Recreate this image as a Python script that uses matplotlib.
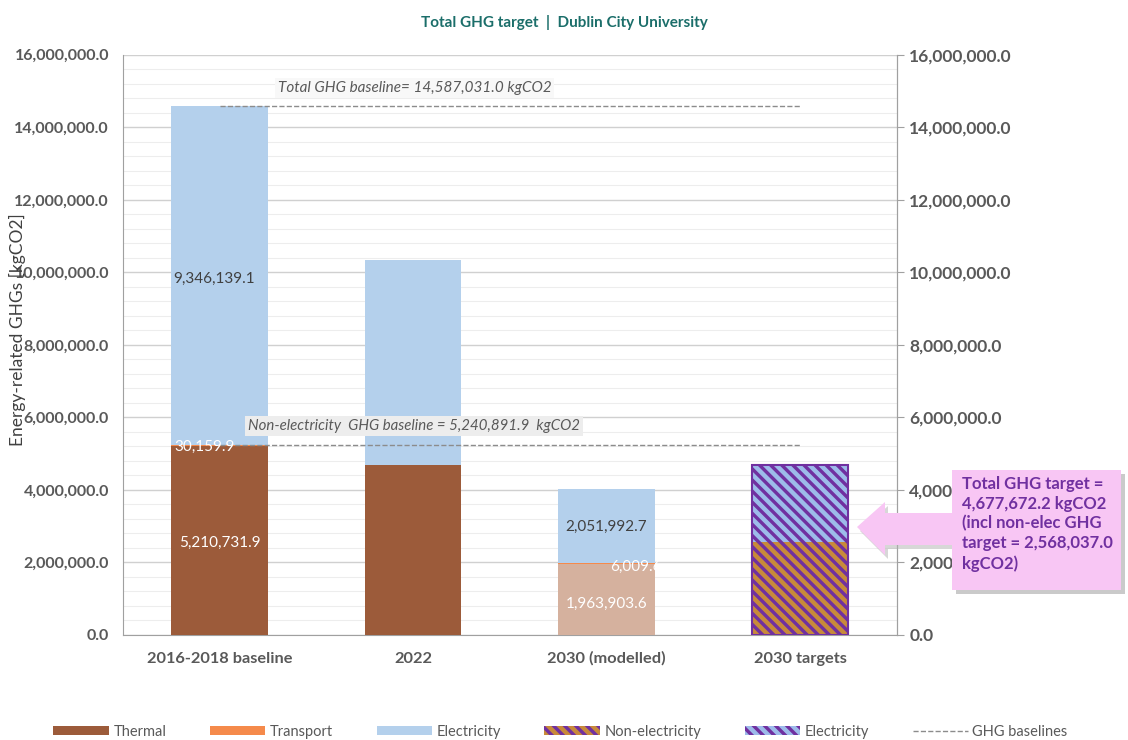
import numpy as np
import matplotlib.pyplot as plt
from matplotlib.patches import Patch, Polygon
from matplotlib.lines import Line2D
from matplotlib.ticker import FuncFormatter, MultipleLocator

plt.rcParams['font.family'] = ['Lato', 'DejaVu Sans']
plt.rcParams['hatch.linewidth'] = 3.2

# data (kgCO2)
categories = ['2016-2018 baseline', '2022', '2030 (modelled)']
thermal = [5210731.9, 4690000.0, 1963903.6]
transport = [30159.9, 0.0, 6009.6]
electricity = [9346139.1, 5640000.0, 2051992.7]

target_label = '2030 targets'
target_nonelec = 2568037.0
target_total = 4677672.2
target_elec = target_total - target_nonelec

total_baseline = 14587031.0
nonelec_baseline = 5240891.9

# colours
c_thermal = '#9C5B3A'
c_thermal_mod = '#D5B19E'
c_transport = '#F58A4B'
c_elec = '#B4D0EC'
c_purple = '#7030A0'
c_stripe_or = '#C88A3A'
c_stripe_bl = '#9DBBEA'
c_text = '#595959'
HATCH = '\\\\\\'

fig = plt.figure(figsize=(11.28, 7.40), dpi=100)
ax = fig.add_axes([0.109, 0.142, 0.686, 0.784])

x = np.arange(len(categories))
w = 0.5
th_cols = [c_thermal, c_thermal, c_thermal_mod]
ax.bar(x, thermal, w, color=th_cols, zorder=3)
ax.bar(x, transport, w, bottom=thermal, color=c_transport, zorder=3)
bot2 = np.array(thermal) + np.array(transport)
ax.bar(x, electricity, w, bottom=bot2, color=c_elec, zorder=3)

# hatched target bar
xt = len(categories)
ax.bar(xt, target_nonelec, w, color=c_purple, edgecolor=c_stripe_or, linewidth=0,
       hatch=HATCH, zorder=3)
ax.bar(xt, target_elec, w, bottom=target_nonelec, color=c_purple, edgecolor=c_stripe_bl,
       linewidth=0, hatch=HATCH, zorder=3)
ax.bar(xt, target_total, w, fill=False, edgecolor=c_purple, linewidth=1.5, zorder=4)

# baselines
ax.plot([0, xt], [total_baseline, total_baseline], ls='--', color='#8C8C8C', lw=1, zorder=4)
ax.plot([0, xt], [nonelec_baseline, nonelec_baseline], ls='--', color='#8C8C8C', lw=1, zorder=4)
ax.text(0.30, 15.09e6, 'Total GHG baseline= 14,587,031.0 kgCO2', style='italic',
        fontsize=11, color=c_text, va='center', zorder=5,
        bbox=dict(facecolor='#F8F8F8', edgecolor='none', pad=2))
ax.text(0.145, 5.77e6, 'Non-electricity  GHG baseline = 5,240,891.9  kgCO2', style='italic',
        fontsize=10.8, color=c_text, va='center', zorder=5,
        bbox=dict(facecolor='#EDEDED', edgecolor='none', pad=2))

# bar labels
lab_kw = dict(ha='center', va='center', fontsize=11, zorder=5)
ax.text(0 - 0.03, 9.82e6, '9,346,139.1', color='#404040', **lab_kw)
ax.text(0 - 0.08, 5.19e6, '30,159.9', color='white', **lab_kw)
ax.text(0, 2.54e6, '5,210,731.9', color='white', **lab_kw)
ax.text(2, 2.98e6, '2,051,992.7', color='#404040', **lab_kw)
ax.text(2 + 0.15, 1.88e6, '6,009.6', color='white', **lab_kw)
ax.text(2, 0.86e6, '1,963,903.6', color='white', **lab_kw)

# axes
ax.set_xlim(-0.5, 3.5)
ax.set_ylim(0, 16e6)
ax.set_xticks(list(x) + [xt])
ax.set_xticklabels(categories + [target_label], fontsize=11.8, fontweight='bold', color=c_text)
ax.tick_params(axis='x', length=0, pad=12)
fmt = FuncFormatter(lambda v, p: f'{v:,.1f}')
ax.yaxis.set_major_locator(MultipleLocator(2e6))
ax.yaxis.set_minor_locator(MultipleLocator(4e5))
ax.yaxis.set_major_formatter(fmt)
ax.tick_params(axis='y', which='both', length=0, labelsize=11.5, labelcolor=c_text, pad=10)
for lab in ax.get_yticklabels():
    lab.set_fontweight('bold')
ax.grid(axis='y', which='major', color='#D0D0D0', lw=1, zorder=0)
ax.grid(axis='y', which='minor', color='#EDEDED', lw=0.8, zorder=0)
ax.spines['top'].set_visible(False)
for s in ['left', 'bottom', 'right']:
    ax.spines[s].set_color('#A0A0A0')
ax.set_ylabel('Energy-related GHGs [kgCO2]', fontsize=12.5, color='#404040')
ax.yaxis.set_label_coords(-0.125, 0.526)

ax2 = ax.twinx()
ax2.set_ylim(0, 16e6)
ax2.yaxis.set_major_locator(MultipleLocator(2e6))
ax2.yaxis.set_major_formatter(fmt)
ax2.tick_params(axis='y', length=5, color='#A0A0A0', labelsize=12.5, labelcolor=c_text, pad=4)
for lab in ax2.get_yticklabels():
    lab.set_fontweight('bold')
for s in ['top', 'left', 'bottom']:
    ax2.spines[s].set_visible(False)
ax2.spines['right'].set_color('#A0A0A0')

fig.text(0.5, 0.970, 'Total GHG target  |  Dublin City University', ha='center', va='center',
         fontsize=11, fontweight='bold', color='#1B6E6A')

# callout arrow + box (figure pixel coords)
W, H = 1128, 740
def px(pts, dx=0, dy=0):
    return [((a + dx) / W, 1 - (b + dy) / H) for a, b in pts]

arrow = [(857, 527), (885, 502), (885, 513), (960, 513), (960, 545), (885, 545), (885, 555)]
pink = '#F8C6F4'
fig.add_artist(Polygon(px(arrow, 3, 4), closed=True, transform=fig.transFigure,
                       facecolor='#B0B0B0', edgecolor='none', alpha=0.5, zorder=9))
fig.add_artist(Polygon(px(arrow), closed=True, transform=fig.transFigure,
                       facecolor=pink, edgecolor='none', zorder=10))
box = [(952, 470), (1121, 470), (1121, 590), (952, 590)]
fig.add_artist(Polygon(px(box, 4, 4), closed=True, transform=fig.transFigure,
                       facecolor='#A8A8A8', edgecolor='none', alpha=0.6, zorder=9))
fig.add_artist(Polygon(px(box), closed=True, transform=fig.transFigure,
                       facecolor=pink, edgecolor='none', zorder=10))
fig.text(962 / W, 1 - 476 / H,
         'Total GHG target =\n4,677,672.2 kgCO2\n(incl non-elec GHG\ntarget = 2,568,037.0\nkgCO2)',
         ha='left', va='top', fontsize=12, fontweight='bold', color=c_purple,
         linespacing=1.28, zorder=11)

# legend
handles = [
    Patch(facecolor=c_thermal, label='Thermal'),
    Patch(facecolor=c_transport, label='Transport'),
    Patch(facecolor=c_elec, label='Electricity'),
    Patch(facecolor=c_purple, edgecolor=c_stripe_or, linewidth=0, hatch=HATCH, label='Non-electricity'),
    Patch(facecolor=c_purple, edgecolor=c_stripe_bl, linewidth=0, hatch=HATCH, label='Electricity'),
    Line2D([0], [0], color='#8C8C8C', ls='--', lw=1, label='GHG baselines'),
]
fig.legend(handles=handles, loc='center', bbox_to_anchor=(0.497, 1 - 732 / H), ncol=6,
           frameon=False, fontsize=10.5, handlelength=3.8, handleheight=0.6,
           columnspacing=3.0, handletextpad=0.3, labelcolor=c_text)

fig.savefig('out.png', dpi=100)
